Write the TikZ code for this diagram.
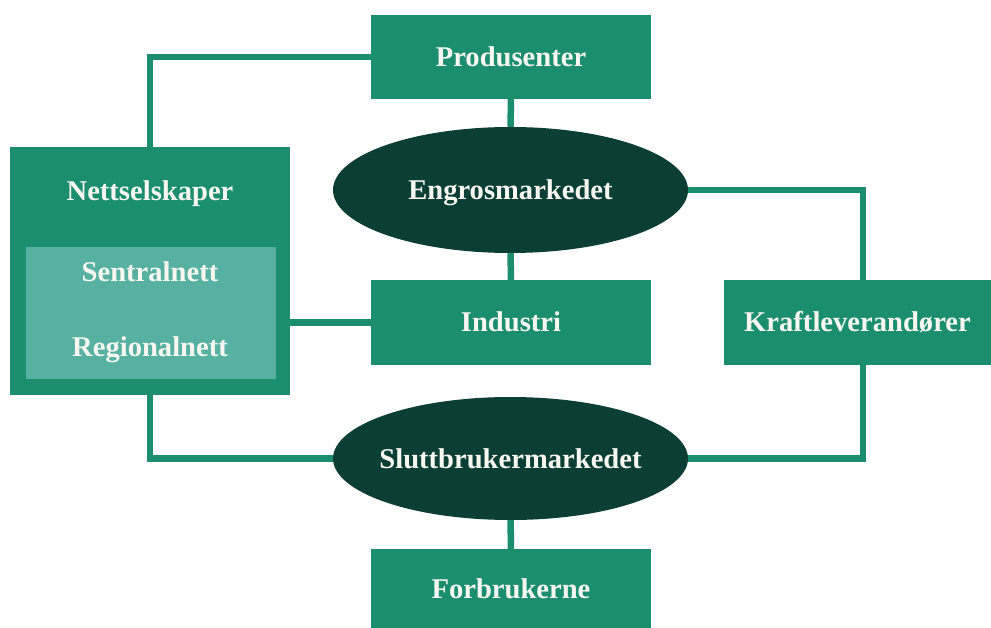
\documentclass[tikz,border=0pt]{standalone}
\usepackage{fontspec}
\setmainfont{Liberation Serif}
\usetikzlibrary{shapes.geometric}
\definecolor{midg}{HTML}{1B8E6F}
\definecolor{darkg}{HTML}{0B3E35}
\definecolor{lightg}{HTML}{56B1A2}
\definecolor{txt}{HTML}{F8F7F2}
\pgfdeclarelayer{background}
\pgfsetlayers{background,main}
\begin{document}
\begin{tikzpicture}[x=1pt,y=-1pt,
  lbl/.style={text=txt, inner sep=0pt, text height=19pt, text depth=0pt, font=\bfseries\fontsize{28.6}{31}\selectfont},
  box/.style={lbl, fill=midg, minimum width=280pt, minimum height=85pt},
  oval/.style={lbl, ellipse, fill=darkg, inner xsep=-14pt, minimum width=355pt, minimum height=126pt},
  link/.style={draw=midg, line width=6.5pt}]
\useasboundingbox (0,0) rectangle (991,628);
\node[box, minimum height=84pt] (prod) at (511,57) {Produsenter};
\node[oval] (engros) at (510.5,190) {Engrosmarkedet};
\node[box] (ind) at (511,322.5) {Industri};
\node[box, minimum width=267pt] (kraft) at (857.5,322.5) {Kraftleverandører};
\node[oval, minimum height=123pt] (slutt) at (510.5,458.5) {Sluttbrukermarkedet};
\node[box, minimum height=79pt] (forb) at (511,588.5) {Forbrukerne};
\node[fill=midg, minimum width=280pt, minimum height=248pt, inner sep=0pt] (nett) at (150,271) {};
\node[fill=lightg, minimum width=250pt, minimum height=132pt, inner sep=0pt] (inner) at (150.5,313.5) {};
\node[lbl] (nettl) at (150,191) {Nettselskaper};
\node[lbl] (sentral) at (150,272) {Sentralnett};
\node[lbl] (regional) at (150,347) {Regionalnett};
\begin{pgfonlayer}{background}
\draw[link] (prod.west) -| (nett.north);
\draw[link] (prod.south) -- (engros.north);
\draw[link] (engros.south) -- (ind.north);
\draw[link] (engros.east) -| ([xshift=5.5pt]kraft.north);
\draw[link] ([xshift=5.5pt]kraft.south) |- (slutt.east);
\draw[link] (nett.east |- ind.west) -- (ind.west);
\draw[link] (nett.south) |- (slutt.west);
\draw[link] (slutt.south) -- (forb.north);
\end{pgfonlayer}
\end{tikzpicture}
\end{document}
